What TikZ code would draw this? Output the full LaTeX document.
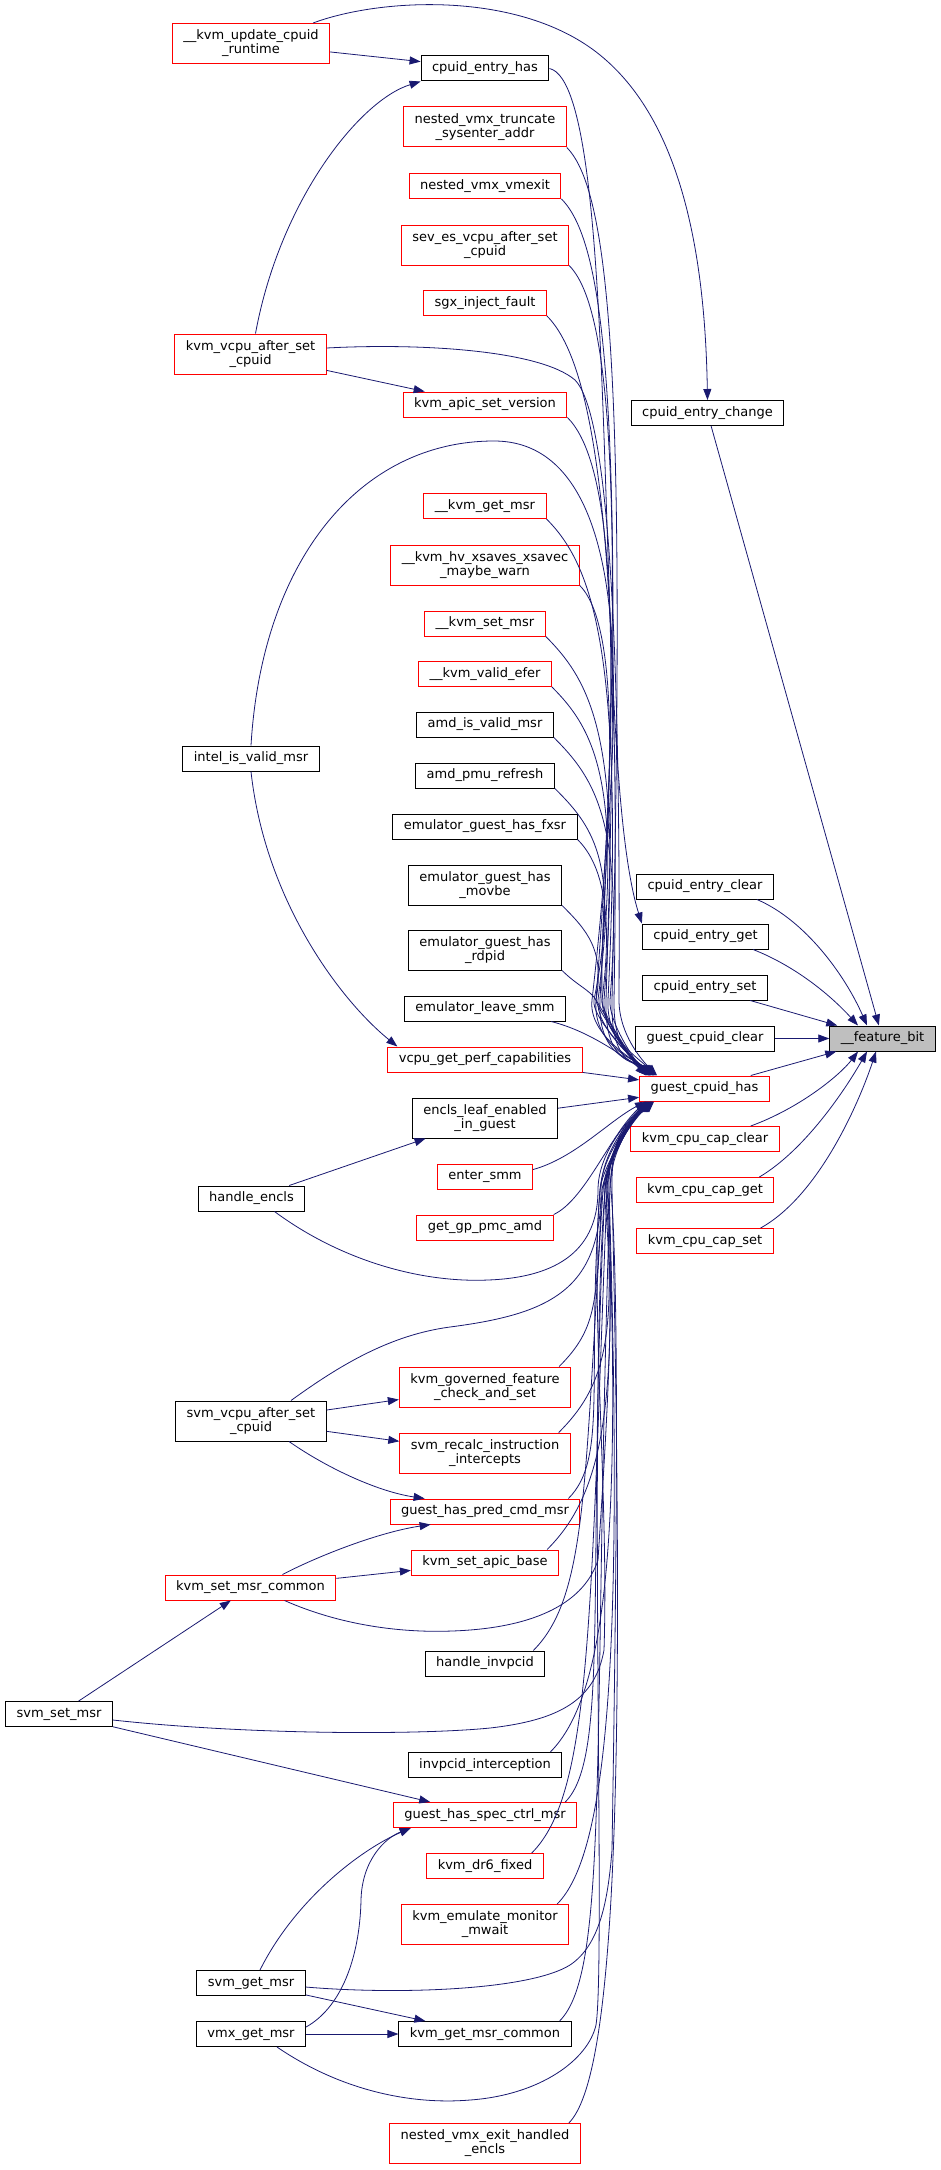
\documentclass[tikz,border=0pt]{standalone}
\usepackage{fontspec}
\setmainfont{DejaVu Sans}
\usetikzlibrary{arrows.meta,calc}
\definecolor{navy}{HTML}{191970}
\begin{document}
\begin{tikzpicture}[x=1pt,y=-1pt,>={Triangle[length=11pt,width=8pt]},
	fn/.style={draw=black,line width=1pt,fill=white,inner xsep=11pt,inner ysep=0pt,minimum height=25pt,align=center,font=\fontsize{13}{14}\selectfont},
	rfn/.style={fn,draw=red},
	two/.style={minimum height=40pt},
	edge/.style={draw=navy,line width=0.8pt,->}]
	\useasboundingbox (0,0) rectangle (941,2170);
	% callers, left column
	\node[rfn,two] (updcpuid) at (251,43.5) {\_\_kvm\_update\_cpuid\\\_runtime};
	\node[rfn,two] (vcpuafter) at (250.5,354) {kvm\_vcpu\_after\_set\\\_cpuid};
	\node[fn] (intelvalid) at (251,758.5) {intel\_is\_valid\_msr};
	\node[fn] (hencls) at (251.5,1198.5) {handle\_encls};
	\node[fn,two] (svmvcpu) at (251,1421) {svm\_vcpu\_after\_set\\\_cpuid};
	\node[rfn] (setmsrcommon) at (250.5,1587.5) {kvm\_set\_msr\_common};
	\node[fn] (svmset) at (59,1714) {svm\_set\_msr};
	\node[fn] (svmget) at (251,1983) {svm\_get\_msr};
	\node[fn] (vmxget) at (251,2034) {vmx\_get\_msr};
	% middle column
	\node[fn] (cehas) at (485,68.5) {cpuid\_entry\_has};
	\node[rfn,two] (nvtrunc) at (485,127) {nested\_vmx\_truncate\\\_sysenter\_addr};
	\node[rfn] (nvvmexit) at (485,186) {nested\_vmx\_vmexit};
	\node[rfn,two] (seves) at (485,245) {sev\_es\_vcpu\_after\_set\\\_cpuid};
	\node[rfn] (sgxfault) at (485,303) {sgx\_inject\_fault};
	\node[rfn] (apicver) at (485,404.5) {kvm\_apic\_set\_version};
	\node[rfn] (getmsr) at (485,506) {\_\_kvm\_get\_msr};
	\node[rfn,two] (hvxsaves) at (485,565) {\_\_kvm\_hv\_xsaves\_xsavec\\\_maybe\_warn};
	\node[rfn] (setmsr) at (485,623.5) {\_\_kvm\_set\_msr};
	\node[rfn] (validefer) at (485,674) {\_\_kvm\_valid\_efer};
	\node[fn] (amdvalid) at (485,724.5) {amd\_is\_valid\_msr};
	\node[fn] (amdpmu) at (485,775.5) {amd\_pmu\_refresh};
	\node[fn] (emufxsr) at (485,826.5) {emulator\_guest\_has\_fxsr};
	\node[fn,two] (emumovbe) at (485,885) {emulator\_guest\_has\\\_movbe};
	\node[fn,two] (emurdpid) at (485,950) {emulator\_guest\_has\\\_rdpid};
	\node[fn] (emusmm) at (485,1008.5) {emulator\_leave\_smm};
	\node[rfn] (perfcaps) at (485,1059.5) {vcpu\_get\_perf\_capabilities};
	\node[fn,two] (enclsleaf) at (485,1118) {encls\_leaf\_enabled\\\_in\_guest};
	\node[rfn] (entersmm) at (485,1176.5) {enter\_smm};
	\node[rfn] (gppmc) at (485,1227.5) {get\_gp\_pmc\_amd};
	\node[rfn,two] (govfeat) at (485,1387) {kvm\_governed\_feature\\\_check\_and\_set};
	\node[rfn,two] (recalc) at (485,1453) {svm\_recalc\_instruction\\\_intercepts};
	\node[rfn] (predcmd) at (485,1511.5) {guest\_has\_pred\_cmd\_msr};
	\node[rfn] (apicbase) at (485,1562.5) {kvm\_set\_apic\_base};
	\node[fn] (hinvpcid) at (485,1663.5) {handle\_invpcid};
	\node[fn] (invpcidint) at (485,1765) {invpcid\_interception};
	\node[rfn] (specctrl) at (485,1815) {guest\_has\_spec\_ctrl\_msr};
	\node[rfn] (dr6) at (485,1866) {kvm\_dr6\_fixed};
	\node[rfn,two] (mwait) at (485,1924.5) {kvm\_emulate\_monitor\\\_mwait};
	\node[fn] (getmsrcommon) at (485,2034) {kvm\_get\_msr\_common};
	\node[rfn,two] (nvencls) at (485,2143.5) {nested\_vmx\_exit\_handled\\\_encls};
	% right column
	\node[fn] (cechange) at (707.5,413) {cpuid\_entry\_change};
	\node[fn] (ceclear) at (705,886.5) {cpuid\_entry\_clear};
	\node[fn] (ceget) at (705.5,936.5) {cpuid\_entry\_get};
	\node[fn] (ceset) at (705,987.5) {cpuid\_entry\_set};
	\node[fn] (gcclear) at (705,1038.5) {guest\_cpuid\_clear};
	\node[rfn] (gchas) at (704.5,1088.5) {guest\_cpuid\_has};
	\node[rfn] (capclear) at (705,1139) {kvm\_cpu\_cap\_clear};
	\node[rfn] (capget) at (705,1190) {kvm\_cpu\_cap\_get};
	\node[rfn] (capset) at (705,1241) {kvm\_cpu\_cap\_set};
	\node[fn,fill=black!25] (fbit) at (882.5,1038.5) {\_\_feature\_bit};
	% into __feature_bit
	\draw[edge] (cechange) -- (fbit);
	\draw[edge] (ceset) -- (fbit);
	\draw[edge] (gcclear) -- (fbit);
	\draw[edge] (gchas) -- (fbit);
	\draw[edge] ([xshift=-17pt]ceclear.south east) .. controls (805,920) and (845,975) .. ([xshift=-15.5pt]fbit.north);
	\draw[edge] ([xshift=-16pt]ceget.south east) .. controls (800,968) and (835,1000) .. ([xshift=-24.5pt]fbit.north);
	\draw[edge] ([xshift=-29pt]capclear.north east) .. controls (800,1108) and (840,1075) .. ([xshift=-24.5pt]fbit.south);
	\draw[edge] ([xshift=-15pt]capget.north east) .. controls (805,1150) and (845,1090) .. ([xshift=-15.5pt]fbit.south);
	\draw[edge] ([xshift=-13pt]capset.north east) .. controls (820,1195) and (860,1100) .. ([xshift=-6.5pt]fbit.south);
	% top part
	\draw[edge] (updcpuid) -- (cehas);
	\draw[edge] ([xshift=-17pt]updcpuid.north east) .. controls (380,-2) and (520,-10) .. (600,55) .. controls (680,120) and (705,250) .. (cechange.north);
	\draw[edge] ([xshift=5pt]vcpuafter.north) .. controls (280,200) and (360,100) .. (cehas.south west);
	\draw[edge] (vcpuafter) -- (apicver);
	\draw[edge] (cehas.east) .. controls (625,85) and (590,760) .. (ceget.north west);
	\draw[edge] ([yshift=6pt]vcpuafter.east) .. controls (420,343) and (540,350) .. (575,380) .. controls (605,410) and (621,600) .. (619,1000) .. controls (619,1035) and ($(gchas.north west)+(4,-14)$) .. ($(gchas.north west)+(18,0)$);
	\draw[edge] (intelvalid.north) .. controls (262,560) and (360,441) .. (494,441) .. controls (570,441) and (605,520) .. (612,640) .. controls (619,760) and (600,880) .. (602,1000) .. controls (603,1035) and ($(gchas.north west)+(3,-14)$) .. ($(gchas.north west)+(17,0)$);
	\draw[edge] (intelvalid.south) .. controls (265,900) and (340,1000) .. ([xshift=10pt]perfcaps.north west);
	\foreach \n/\p/\b/\m/\a/\t in {nvtrunc/45/626/400/612/16, nvvmexit/45/624/420/606/15, seves/40/626/480/600/15, sgxfault/45/622/520/614/14, apicver/40/626/600/596/14, getmsr/45/625/650/608/13, hvxsaves/25/626/700/592/12, setmsr/45/624/740/604/12, validefer/40/625/780/598/11, amdvalid/40/624/820/610/10, amdpmu/35/622/860/594/10, emufxsr/20/615/900/602/9, emumovbe/25/605/950/596/8, emurdpid/15/590/990/596/7}
		\draw[edge] (\n.south east) .. controls ($(\n.south east)+(\p,\p)$) and (\b,\m) .. (\a,1000) .. controls ($(\a,1000)!-0.12!(\b,\m)$) and ($(gchas.north west)+(\t-14,-14)$) .. ($(gchas.north west)+(\t,0)$);
	\draw[edge] ([xshift=-15pt]emusmm.south east) .. controls (585,1030) and (615,1050) .. ($(gchas.north west)+(11,0)$);
	\draw[edge] (perfcaps) -- (gchas);
	\draw[edge] (enclsleaf) -- (gchas);
	% bottom part
	\draw[edge] ([yshift=7pt]entersmm.east) .. controls (575,1158) and (610,1120) .. ($(gchas.south west)+(7,0)$);
	\draw[edge] (gppmc.north east) .. controls (585,1200) and (610,1135) .. ($(gchas.south west)+(7,0)$);
	\foreach \n/\p/\b/\m/\a/\t in {govfeat/40/596/1300/602/8, recalc/45/618/1340/604/9, predcmd/40/586/1380/600/10, apicbase/50/620/1420/606/11, hinvpcid/55/584/1480/603/12, invpcidint/55/622/1540/608/12, specctrl/45/586/1580/605/13, dr6/60/590/1620/607/13, mwait/50/624/1660/609/14, getmsrcommon/50/592/1750/610/14, nvencls/45/626/1800/612/15}
		\draw[edge] ([xshift=-12pt]\n.north east) .. controls ($([xshift=-12pt]\n.north east)+(\p,-\p)$) and (\b,\m) .. (\a,1190) .. controls ($(\a,1190)!-0.12!(\b,\m)$) and ($(gchas.south west)+(\t-14,14)$) .. ($(gchas.south west)+(\t,0)$);
	\draw[edge] (hencls) -- (enclsleaf);
	\draw[edge] ([xshift=23pt]hencls.south) .. controls (340,1260) and (420,1283) .. (488,1280) .. controls (570,1277) and (598,1240) .. (598,1190) .. controls (598,1150) and ($(gchas.south west)+(-6,14)$) .. ($(gchas.south west)+(8,0)$);
	\draw[edge] (svmvcpu) -- (govfeat);
	\draw[edge] (svmvcpu) -- (recalc);
	\draw[edge] ([xshift=38pt]svmvcpu.south) .. controls (330,1470) and (380,1492) .. ([xshift=35pt]predcmd.north west);
	\draw[edge] ([xshift=40pt]svmvcpu.north) .. controls (340,1365) and (390,1335) .. (450,1327) .. controls (550,1314) and (601,1290) .. (601,1190) .. controls (601,1150) and ($(gchas.south west)+(-5,14)$) .. ($(gchas.south west)+(9,0)$);
	\draw[edge] ([xshift=32pt]setmsrcommon.north) .. controls (320,1555) and (380,1532) .. ([xshift=41pt]predcmd.south west);
	\draw[edge] (setmsrcommon) -- (apicbase);
	\draw[edge] ([xshift=34pt]setmsrcommon.south) .. controls (340,1625) and (400,1633) .. (452,1631) .. controls (540,1628) and (585,1600) .. (598,1560) .. controls (605,1450) and (616,1300) .. (607,1190) .. controls (604,1150) and ($(gchas.south west)+(-4,14)$) .. ($(gchas.south west)+(10,0)$);
	\draw[edge] (svmset) -- (setmsrcommon);
	\draw[edge] (svmset) -- (specctrl);
	\draw[edge] ([yshift=-6pt]svmset.east) .. controls (250,1735) and (420,1735) .. (490,1728) .. controls (560,1720) and (595,1700) .. (604,1650) .. controls (609,1500) and (590,1300) .. (600,1190) .. controls (603,1150) and ($(gchas.south west)+(-3,14)$) .. ($(gchas.south west)+(11,0)$);
	\draw[edge] ([xshift=9pt]svmget.north) .. controls (295,1900) and (360,1850) .. ([xshift=18pt]specctrl.south west);
	\draw[edge] (svmget) -- (getmsrcommon);
	\draw[edge] ([yshift=-4pt]svmget.east) .. controls (400,1995) and (530,1990) .. (570,1965) .. controls (600,1945) and (608,1900) .. (612,1850) .. controls (616,1600) and (620,1300) .. (611,1190) .. controls (608,1150) and ($(gchas.south west)+(-2,14)$) .. ($(gchas.south west)+(12,0)$);
	\draw[edge] (vmxget) -- (getmsrcommon);
	\draw[edge] ([yshift=7pt]vmxget.east) .. controls (345,2005) and (360,1950) .. (361,1900) .. controls (362,1860) and (385,1838) .. ([xshift=18pt]specctrl.south west);
	\draw[edge] ([xshift=26pt]vmxget.south) .. controls (340,2090) and (410,2105) .. (470,2100) .. controls (540,2095) and (588,2060) .. (596,2025) .. controls (606,1960) and (588,1400) .. (605,1190) .. controls (608,1150) and ($(gchas.south west)+(-1,14)$) .. ($(gchas.south west)+(13,0)$);
\end{tikzpicture}
\end{document}
